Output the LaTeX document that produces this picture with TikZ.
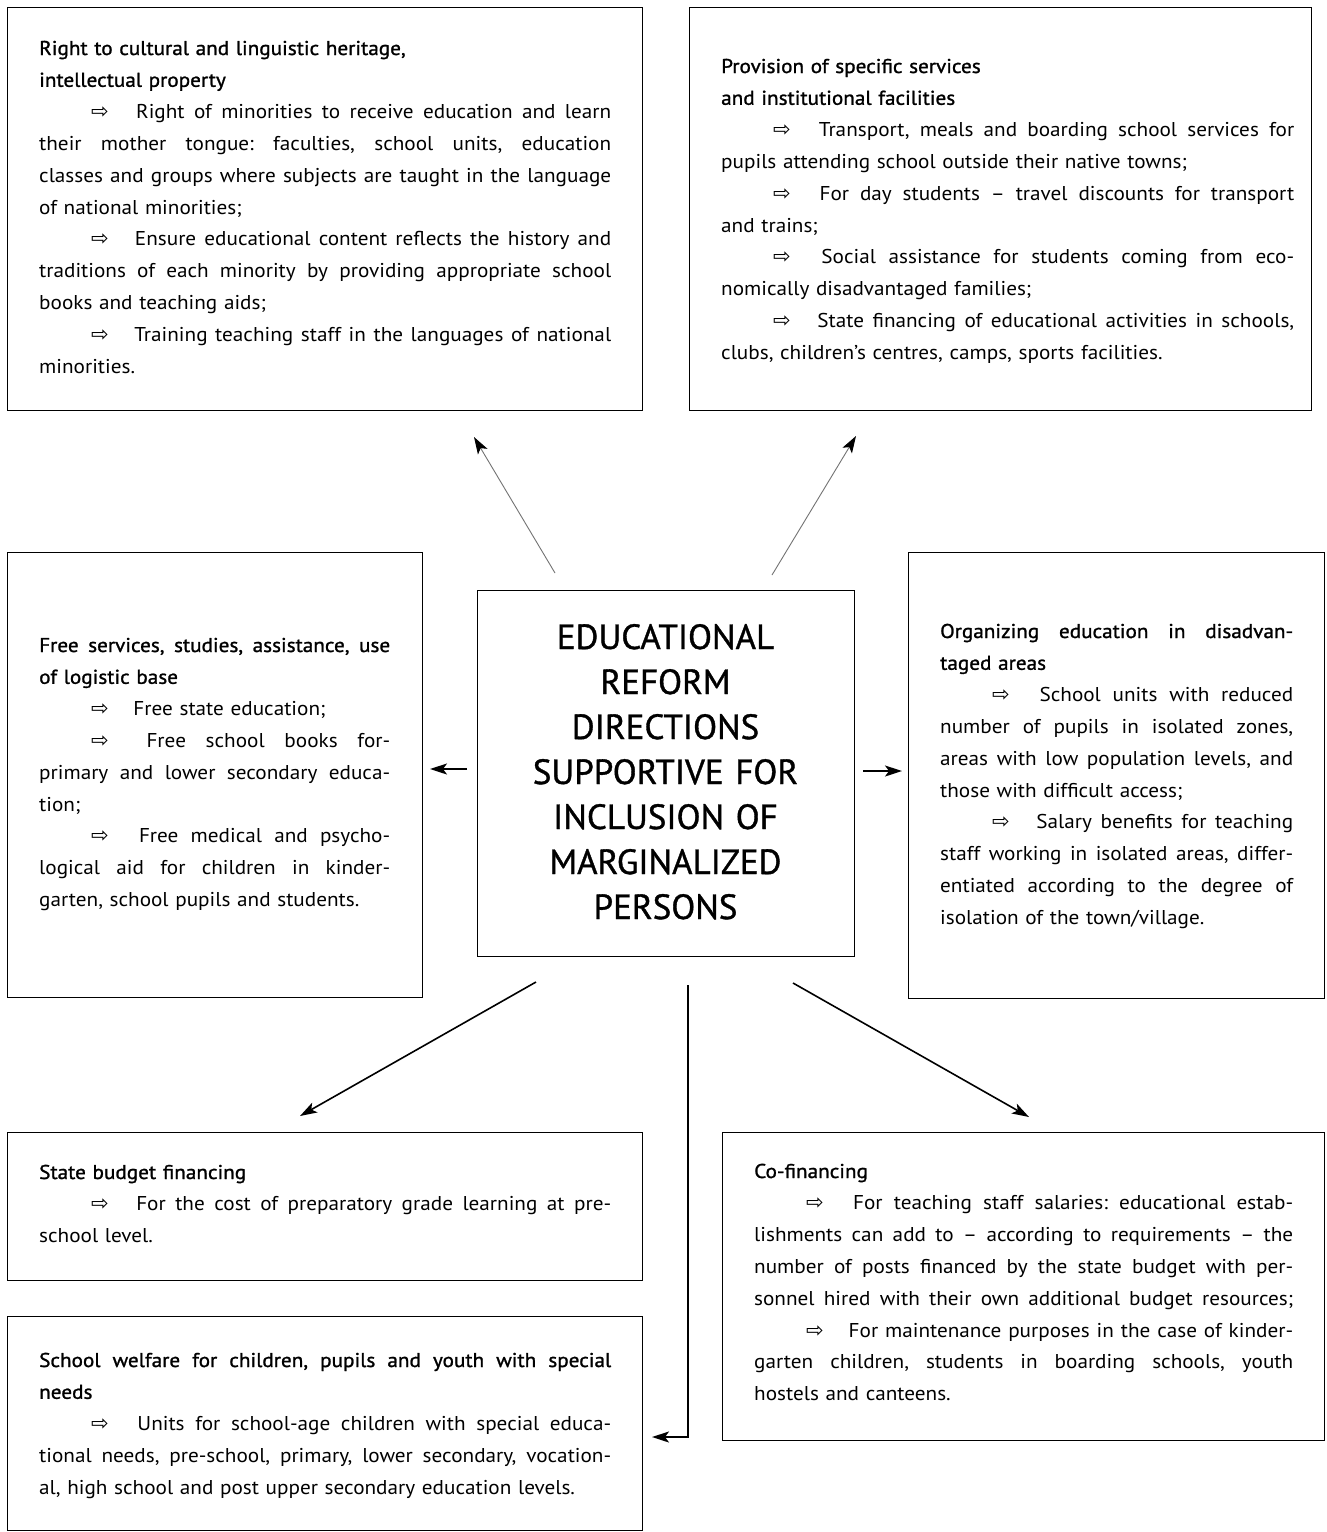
\documentclass[tikz,border=0pt]{standalone}
\usepackage{fontspec}
\setmainfont[FakeStretch=1.06]{PT Sans}
\newfontfamily\arrfont{DejaVu Sans}
\newfontfamily\headfont[FakeStretch=1.06,FakeBold=1.2]{PT Sans}
\newfontfamily\titlefont[FakeBold=1.0]{PT Sans}
\usetikzlibrary{arrows.meta}
\newcommand\Ar{\hspace*{52pt}{\arrfont\fontsize{21}{21}\selectfont ⇨}\hspace{18pt} }
\newcommand\J[2][572pt]{\makebox[#1][s]{\frenchspacing\spaceskip=\fontdimen2\font plus 1fil minus \fontdimen4\font\relax #2}}
\newcommand\hd{\headfont}
\tikzset{
  box/.style={draw, line width=1.3pt, inner sep=0pt, anchor=north west},
  txt/.style={anchor=base west, inner sep=0pt, align=left, text width=#1,
    font=\fontsize{20}{31.8}\selectfont},
  arr/.style={line width=1.6pt, -{Stealth[length=17pt,width=11pt,inset=4pt]}},
  thinarr/.style={line width=0.9pt, draw=black!55, -{Stealth[length=17pt,width=11pt,inset=4pt,black]}}
}
\begin{document}
\begin{tikzpicture}[x=1pt,y=-1pt]
\useasboundingbox[fill=white] (0,0) rectangle (1326,1532);
% boxes
\node[box, minimum width=635pt, minimum height=403pt] (b1) at (7,7) {};
\node[box, minimum width=622pt, minimum height=403pt] (b2) at (689,7) {};
\node[box, minimum width=415pt, minimum height=445pt] (b3) at (7,552) {};
\node[box, minimum width=377pt, minimum height=366pt] (b4) at (477,590) {};
\node[box, minimum width=416pt, minimum height=446pt] (b5) at (908,552) {};
\node[box, minimum width=635pt, minimum height=148pt] (b6) at (7,1132) {};
\node[box, minimum width=602pt, minimum height=308pt] (b7) at (722,1132) {};
\node[box, minimum width=635pt, minimum height=214pt] (b8) at (7,1316) {};
% texts
\node[txt=572pt] (t1) at (39,55) {%
{\hd Right to cultural and linguistic heritage,}\\
{\hd intellectual property}\\
\J{\Ar Right of minorities to receive education and learn}\\
\J{their mother tongue: faculties, school units, education}\\
\J{classes and groups where subjects are taught in the language}\\
of national minorities;\\
\J{\Ar Ensure educational content reflects the history and}\\
\J{traditions of each minority by providing appropriate school}\\
books and teaching aids;\\
\J{\Ar Training teaching staff in the languages of national}\\
minorities.};
\node[txt=573pt] (t2) at (721,73) {%
{\hd Provision of specific services}\\
{\hd and institutional facilities}\\
\J[573pt]{\Ar Transport, meals and boarding school services for}\\
pupils attending school outside their native towns;\\
\J[573pt]{\Ar For day students – travel discounts for transport}\\
and trains;\\
\J[573pt]{\Ar Social assistance for students coming from eco-}\\
nomically disadvantaged families;\\
\J[573pt]{\Ar State financing of educational activities in schools,}\\
clubs, children’s centres, camps, sports facilities.};
\node[txt=351pt] (t3) at (39,652) {%
\J[351pt]{\hd Free services, studies, assistance, use}\\
{\hd of logistic base}\\
\Ar Free state education;\\
\J[351pt]{\Ar Free school books for-}\\
\J[351pt]{primary and lower secondary educa-}\\
tion;\\
\J[351pt]{\Ar Free medical and psycho-}\\
\J[351pt]{logical aid for children in kinder-}\\
garten, school pupils and students.};
\node[anchor=base, text width=377pt, align=center, inner sep=0pt,
      font=\titlefont\fontsize{35}{45}\selectfont] (title) at (665.5,649) {%
EDUCATIONAL\\ REFORM\\ DIRECTIONS\\ SUPPORTIVE FOR\\ INCLUSION OF\\ MARGINALIZED\\ PERSONS};
\node[txt=353pt] (t5) at (940,638) {%
\J[353pt]{\hd Organizing education in disadvan-}\\
{\hd taged areas}\\
\J[353pt]{\Ar School units with reduced}\\
\J[353pt]{number of pupils in isolated zones,}\\
\J[353pt]{areas with low population levels, and}\\
those with difficult access;\\
\J[353pt]{\Ar Salary benefits for teaching}\\
\J[353pt]{staff working in isolated areas, differ-}\\
\J[353pt]{entiated according to the degree of}\\
isolation of the town/village.};
\node[txt=572pt] (t6) at (39,1179) {%
{\hd State budget financing}\\
\J{\Ar For the cost of preparatory grade learning at pre-}\\
school level.};
\node[txt=539pt] (t7) at (754,1178) {%
{\hd Co-financing}\\
\J[539pt]{\Ar For teaching staff salaries: educational estab-}\\
\J[539pt]{lishments can add to – according to requirements – the}\\
\J[539pt]{number of posts financed by the state budget with per-}\\
\J[539pt]{sonnel hired with their own additional budget resources;}\\
\J[539pt]{\Ar For maintenance purposes in the case of kinder-}\\
\J[539pt]{garten children, students in boarding schools, youth}\\
hostels and canteens.};
\node[txt=572pt] (t8) at (39,1367) {%
\J{\hd School welfare for children, pupils and youth with special}\\
{\hd needs}\\
\J{\Ar Units for school-age children with special educa-}\\
\J{tional needs, pre-school, primary, lower secondary, vocation-}\\
al, high school and post upper secondary education levels.};
% arrow end points
\coordinate (a1s) at (555,573); \coordinate (a1e) at (474,437);
\coordinate (a2s) at (772,575); \coordinate (a2e) at (856,436);
\coordinate (a3s) at (467,769); \coordinate (a3e) at (430,769);
\coordinate (a4s) at (863,771); \coordinate (a4e) at (902,771);
\coordinate (a5s) at (536,982); \coordinate (a5e) at (300,1116);
\coordinate (a6s) at (688,985); \coordinate (a6e) at (652,1437);
\coordinate (a7s) at (793,983); \coordinate (a7e) at (1029,1117);
\draw[thinarr] (a1s) -- (a1e);
\draw[thinarr] (a2s) -- (a2e);
\draw[arr] (a3s) -- (a3e);
\draw[arr] (a4s) -- (a4e);
\draw[arr] (a5s) -- (a5e);
\draw[arr] (a6s) |- (a6e);
\draw[arr] (a7s) -- (a7e);
\end{tikzpicture}
\end{document}
